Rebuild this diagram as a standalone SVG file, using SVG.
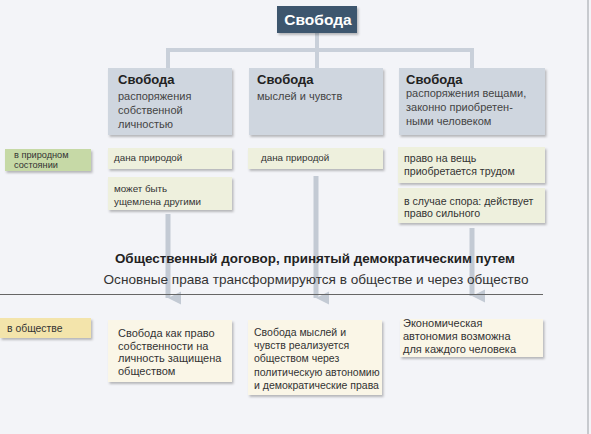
<svg xmlns="http://www.w3.org/2000/svg" width="591" height="434" viewBox="0 0 591 434">
<defs>
<filter id="sh" x="-10%" y="-10%" width="125%" height="140%">
<feDropShadow dx="1.5" dy="2" stdDeviation="1.2" flood-color="#000" flood-opacity="0.25"/>
</filter>
<marker id="ah" viewBox="0 0 10 10" refX="5" refY="10" markerWidth="3.2" markerHeight="2.6" orient="auto-start-reverse" markerUnits="strokeWidth">
<path d="M0,0 L10,0 L5,10 Z" fill="#c3cad4"/>
</marker>
<style>
text{font-family:"Liberation Sans","Open Sans",Arial,sans-serif;fill:#333}
.t{font-size:13px;font-weight:bold;fill:#222}
.s{font-size:11px;fill:#444}
.g{font-size:9.8px;fill:#333}
.r{font-size:10.6px;fill:#333}
.b{font-size:11px;fill:#333}
.head{fill:#cfd6df;filter:url(#sh)}
.grn{fill:#eef0dd;filter:url(#sh)}
.crm{fill:#faf6e7;filter:url(#sh)}
.conn{stroke:#c9d0da;stroke-width:4;fill:none}
.arr{stroke:#c3cad4;stroke-width:5;fill:none}
</style>
</defs>
<rect x="0" y="0" width="591" height="434" fill="#f3f4f8"/>
<line x1="588" y1="0" x2="588" y2="434" stroke="#b9bcc2" stroke-width="1.5"/>

<g id="connectors">
<path class="conn" d="M317,33 V50 M168,68 V50 H472 V68 M317,50 V68"/>
<line class="arr" x1="168" y1="214" x2="168" y2="298" marker-end="url(#ah)"/>
<line class="arr" x1="316" y1="176" x2="316" y2="298" marker-end="url(#ah)"/>
<line class="arr" x1="472" y1="228" x2="472" y2="296" marker-end="url(#ah)"/>
</g>

<g id="root">
<rect x="277" y="6" width="80" height="27" fill="#3d566e" filter="url(#sh)"/>
<text x="318" y="25" text-anchor="middle" style="font-size:15.5px;font-weight:bold;fill:#fff">Свобода</text>
</g>

<g id="freedom-person">
<rect class="head" x="108" y="68" width="124" height="67"/>
<text class="t" x="118" y="84">Свобода</text>
<text class="s" x="118" y="100">распоряжения</text>
<text class="s" x="118" y="114">собственной</text>
<text class="s" x="118" y="128">личностью</text>
</g>

<g id="freedom-thought">
<rect class="head" x="249" y="68" width="134" height="67"/>
<text class="t" x="257" y="84">Свобода</text>
<text class="s" x="257" y="100">мыслей и чувств</text>
</g>

<g id="freedom-things">
<rect class="head" x="399" y="68" width="146" height="67"/>
<text class="t" x="406" y="84">Свобода</text>
<text class="s" x="406" y="97">распоряжения вещами,</text>
<text class="s" x="406" y="111">законно приобретен-</text>
<text class="s" x="406" y="125">ными человеком</text>
</g>

<g id="label-nature">
<rect x="5" y="149" width="86" height="22" fill="#c6d9a6" filter="url(#sh)"/>
<text x="14" y="158" style="font-size:9.2px">в природном</text>
<text x="14" y="167.5" style="font-size:9.2px">состоянии</text>
</g>

<g id="n1a">
<rect class="grn" x="108" y="148" width="124" height="21"/>
<text class="g" x="114" y="161">дана природой</text>
</g>
<g id="n1b">
<rect class="grn" x="108" y="177" width="124" height="33"/>
<text class="g" x="114" y="191.5">может быть</text>
<text class="g" x="114" y="204.5">ущемлена другими</text>
</g>
<g id="n2a">
<rect class="grn" x="248" y="148" width="135" height="21"/>
<text class="g" x="261" y="161">дана природой</text>
</g>
<g id="n3a">
<rect class="grn" x="398" y="147" width="147" height="36"/>
<text class="r" x="404" y="162">право на вещь</text>
<text class="r" x="404" y="175">приобретается трудом</text>
</g>
<g id="n3b">
<rect class="grn" x="398" y="188" width="147" height="35"/>
<text class="r" x="404" y="204.5">в случае спора: действует</text>
<text class="r" x="404" y="217">право сильного</text>
</g>

<g id="contract">
<text x="315" y="263" text-anchor="middle" style="font-size:13.4px;font-weight:bold;fill:#222">Общественный договор, принятый демократическим путем</text>
<text x="316" y="284" text-anchor="middle" style="font-size:13.6px;fill:#333">Основные права трансформируются в обществе и через общество</text>
<line x1="0" y1="294.5" x2="543" y2="294.5" stroke="#666" stroke-width="1"/>
</g>

<g id="label-society">
<rect x="0" y="318" width="91" height="20" fill="#f3e4ab" filter="url(#sh)"/>
<text x="7" y="332" style="font-size:10.4px">в обществе</text>
</g>

<g id="s1">
<rect class="crm" x="108" y="320" width="124" height="62"/>
<text class="b" x="118" y="337">Свобода как право</text>
<text class="b" x="118" y="349.5">собственности на</text>
<text class="b" x="118" y="362">личность защищена</text>
<text class="b" x="118" y="375">обществом</text>
</g>
<g id="s2">
<rect class="crm" x="248" y="320" width="134" height="75"/>
<text x="254" y="336" style="font-size:10.5px">Свобода мыслей и</text>
<text x="254" y="349" style="font-size:10.5px">чувств реализуется</text>
<text x="254" y="362" style="font-size:10.5px">обществом через</text>
<text x="254" y="375.5" style="font-size:10.5px">политическую автономию</text>
<text x="254" y="389" style="font-size:10.5px">и демократические права</text>
</g>
<g id="s3">
<rect class="crm" x="400" y="319" width="143" height="38"/>
<text class="b" x="403" y="327">Экономическая</text>
<text class="b" x="403" y="340">автономия возможна</text>
<text class="b" x="403" y="353">для каждого человека</text>
</g>
</svg>
